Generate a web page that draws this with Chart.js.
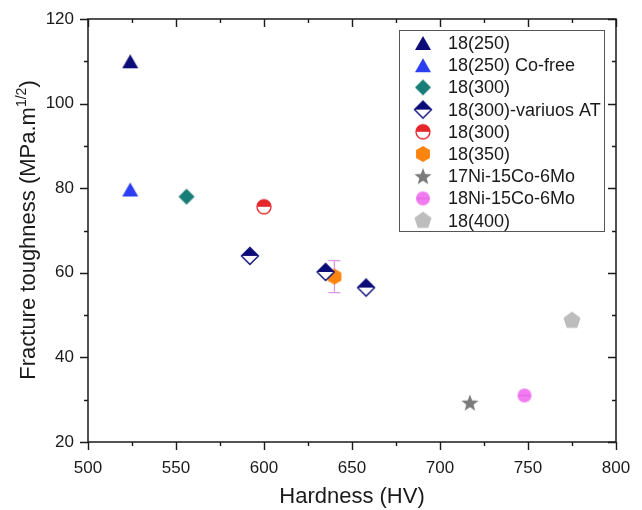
<!DOCTYPE html>
<html>
<head>
<meta charset="utf-8">
<script src="https://cdn.jsdelivr.net/npm/chart.js@4"></script>
<style>
  html, body { margin: 0; padding: 0; background: #fff; }
  #wrap { width: 642px; height: 510px; position: relative; }
</style>
</head>
<body>
<div id="wrap"><canvas id="chart"></canvas></div>
<script>
// series
const labels = ['18(250)', '18(250) Co-free', '18(300)', '18(300)-variuos AT', '18(300)', '18(350)', '17Ni-15Co-6Mo', '18Ni-15Co-6Mo', '18(400)'];
const hardness = [[524], [524], [556], [592, 635, 658], [600], [640], [717], [748], [775]];
const toughness = [[110], [79.7], [78], [64, 60.2, 56.5], [75.6], [59.1], [29.3], [31], [48.7]];
const toughErr = [[0], [0], [0], [0, 0, 0], [0], [3.8], [0], [0], [0]];
const xTicks = [500, 550, 600, 650, 700, 750, 800];
const yTicks = [20, 40, 60, 80, 100, 120];

const AXIS = '#1a1a1a';
const FONT = "'Liberation Sans', Arial, sans-serif";

// marker canvases
function mk(draw) {
    const c = document.createElement('canvas');
    c.width = 22; c.height = 22;
    const g = c.getContext('2d');
    g.translate(11, 11);
    draw(g);
    return c;
}
function poly(g, pts) {
    g.beginPath();
    pts.forEach((p, i) => i ? g.lineTo(p[0], p[1]) : g.moveTo(p[0], p[1]));
    g.closePath();
}
function regular(n, r, rot) {
    const pts = [];
    for (let k = 0; k < n; k++) {
        const a = rot + k * 2 * Math.PI / n;
        pts.push([r * Math.cos(a), r * Math.sin(a)]);
    }
    return pts;
}
const triangle = col => mk(g => { poly(g, [[0, -7], [8, 7], [-8, 7]]); g.fillStyle = col; g.fill(); });
const markers = [
    triangle('#0c0c78'),
    triangle('#2b3ef2'),
    mk(g => { poly(g, [[0, -8], [8, 0], [0, 8], [-8, 0]]); g.fillStyle = '#177d76'; g.fill(); }),
    mk(g => {
        poly(g, [[0, -8.5], [8.5, 0], [0, 8.5], [-8.5, 0]]);
        g.fillStyle = '#fff'; g.fill();
        poly(g, [[0, -8.5], [8.5, 0], [-8.5, 0]]);
        g.fillStyle = '#0c0c78'; g.fill();
        poly(g, [[0, -8.5], [8.5, 0], [0, 8.5], [-8.5, 0]]);
        g.strokeStyle = '#0c0c78'; g.lineWidth = 1.4; g.stroke();
    }),
    mk(g => {
        g.beginPath(); g.arc(0, 0, 7, 0, 2 * Math.PI); g.fillStyle = '#fff'; g.fill();
        g.beginPath(); g.arc(0, 0, 7, Math.PI, 2 * Math.PI); g.closePath(); g.fillStyle = '#e5262b'; g.fill();
        g.beginPath(); g.arc(0, 0, 7, 0, 2 * Math.PI); g.strokeStyle = '#e5262b'; g.lineWidth = 1.3; g.stroke();
    }),
    mk(g => { poly(g, regular(6, 8, -Math.PI / 2)); g.fillStyle = '#fb8410'; g.fill(); }),
    mk(g => {
        const pts = [];
        for (let k = 0; k < 10; k++) {
            const r = k % 2 ? 3.8 : 9, a = -Math.PI / 2 + k * Math.PI / 5;
            pts.push([r * Math.cos(a), r * Math.sin(a) + 0.8]);
        }
        poly(g, pts); g.fillStyle = '#7b7b7b'; g.fill();
    }),
    mk(g => {
        g.beginPath(); g.arc(0, 0, 7, 0, 2 * Math.PI); g.fillStyle = '#f17cf1'; g.fill();
        g.beginPath(); g.moveTo(-6.5, 0); g.lineTo(6.5, 0); g.strokeStyle = '#e060e0'; g.lineWidth = 1; g.stroke();
    }),
    mk(g => { poly(g, regular(5, 9, -Math.PI / 2)); g.fillStyle = '#bdbdbd'; g.fill(); })
];

const datasets = labels.map((lab, i) => ({
    label: lab,
    data: hardness[i].map((x, j) => ({ x: x, y: toughness[i][j] })),
    pointStyle: markers[i],
    pointRadius: 8,
    pointHoverRadius: 8
}));

// box, ticks, error bars
const framePlugin = {
    id: 'frame',
    beforeDatasetsDraw(chart) {
        const { ctx, chartArea: a, scales: { x, y } } = chart;
        ctx.save();
        // error bars
        ctx.strokeStyle = '#d99be2';
        ctx.lineWidth = 1.3;
        toughErr.forEach((errs, i) => errs.forEach((e, j) => {
            if (!e) return;
            const px = x.getPixelForValue(hardness[i][j]);
            const y1 = y.getPixelForValue(toughness[i][j] + e);
            const y2 = y.getPixelForValue(toughness[i][j] - e);
            ctx.beginPath();
            ctx.moveTo(px, y1); ctx.lineTo(px, y2);
            ctx.moveTo(px - 6, y1); ctx.lineTo(px + 6, y1);
            ctx.moveTo(px - 6, y2); ctx.lineTo(px + 6, y2);
            ctx.stroke();
        }));
        // frame
        ctx.strokeStyle = AXIS;
        ctx.lineWidth = 1.5;
        ctx.strokeRect(a.left, a.top, a.right - a.left, a.bottom - a.top);
        ctx.lineWidth = 1.4;
        ctx.beginPath();
        for (let i = 0; i < xTicks.length; i++) {
            const vals = [[xTicks[i], 8]];
            if (i < xTicks.length - 1) vals.push([(xTicks[i] + xTicks[i + 1]) / 2, 4]);
            vals.forEach(([v, len]) => {
                const px = Math.round(x.getPixelForValue(v)) + 0.5;
                ctx.moveTo(px, a.bottom); ctx.lineTo(px, a.bottom + len);
                ctx.moveTo(px, a.top); ctx.lineTo(px, a.top + len);
            });
        }
        for (let i = 0; i < yTicks.length; i++) {
            const vals = [[yTicks[i], 8]];
            if (i < yTicks.length - 1) vals.push([(yTicks[i] + yTicks[i + 1]) / 2, 4]);
            vals.forEach(([v, len]) => {
                const py = Math.round(y.getPixelForValue(v)) + 0.5;
                ctx.moveTo(a.left, py); ctx.lineTo(a.left - len, py);
                ctx.moveTo(a.right, py); ctx.lineTo(a.right - len, py);
            });
        }
        ctx.stroke();
        ctx.restore();
    },
    afterDraw(chart) {
        const { ctx } = chart;
        ctx.save();
        // y title with superscript
        const main = 'Fracture toughness (MPa.m';
        ctx.font = '22px ' + FONT;
        const w1 = ctx.measureText(main).width;
        const w3 = ctx.measureText(')').width;
        ctx.font = '14px ' + FONT;
        const w2 = ctx.measureText('1/2').width;
        const total = w1 + w2 + w3;
        ctx.translate(35, 230);
        ctx.rotate(-Math.PI / 2);
        ctx.fillStyle = AXIS;
        ctx.textBaseline = 'alphabetic';
        ctx.textAlign = 'left';
        let sx = -total / 2;
        ctx.font = '22px ' + FONT;
        ctx.fillText(main, sx, 0);
        sx += w1;
        ctx.font = '14px ' + FONT;
        ctx.fillText('1/2', sx, -9);
        sx += w2;
        ctx.font = '22px ' + FONT;
        ctx.fillText(')', sx, 0);
        ctx.restore();

        // legend box
        ctx.save();
        ctx.strokeStyle = '#555';
        ctx.lineWidth = 1;
        ctx.strokeRect(399.5, 30.5, 205, 201);
        ctx.font = '18px ' + FONT;
        ctx.fillStyle = AXIS;
        ctx.textBaseline = 'middle';
        chart.data.datasets.forEach((ds, i) => {
            const cy = 43 + i * 22.2;
            const m = ds.pointStyle;
            ctx.drawImage(m, 423 - m.width / 2, cy - m.height / 2);
            ctx.fillText(ds.label, 448, cy + 1);
        });
        ctx.restore();
    }
};

new Chart(document.getElementById('chart'), {
    type: 'scatter',
    data: { datasets: datasets },
    options: {
        responsive: true,
        maintainAspectRatio: false,
        animation: false,
        events: [],
        layout: { padding: { top: 19, right: 26, left: 0, bottom: 0 } },
        plugins: { legend: { display: false }, tooltip: { enabled: false } },
        scales: {
            x: {
                type: 'linear',
                min: 500, max: 800,
                afterBuildTicks: s => { s.ticks = xTicks.map(v => ({ value: v })); },
                afterFit: s => { s.height = 68; s.paddingLeft = 0; s.paddingRight = 0; },
                grid: { display: false, drawTicks: false },
                border: { display: false },
                ticks: { padding: 16, color: AXIS, font: { size: 17, family: FONT } },
                title: { display: true, text: 'Hardness (HV)', color: AXIS, font: { size: 22, family: FONT }, padding: { top: 4, bottom: 0 } }
            },
            y: {
                type: 'linear',
                min: 20, max: 120,
                afterBuildTicks: s => { s.ticks = yTicks.map(v => ({ value: v })); },
                afterFit: s => { s.width = 88; s.paddingTop = 0; s.paddingBottom = 0; },
                grid: { display: false, drawTicks: false },
                border: { display: false },
                ticks: { padding: 14, color: AXIS, font: { size: 17, family: FONT } }
            }
        }
    },
    plugins: [framePlugin]
});
</script>
</body>
</html>
